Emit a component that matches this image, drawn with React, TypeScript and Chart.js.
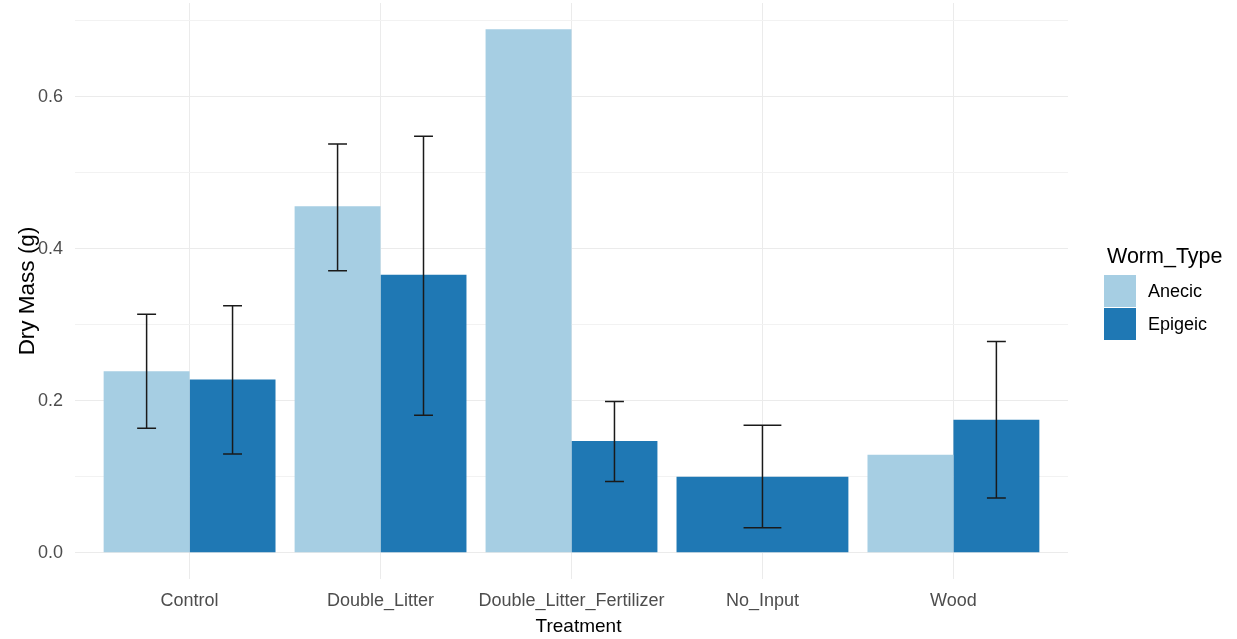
import React, { useEffect, useRef } from "react";
import { Chart, registerables } from "chart.js";

Chart.register(...registerables);

const categories = ["Control", "Double_Litter", "Double_Litter_Fertilizer", "No_Input", "Wood"];
const seriesNames = ["Anecic", "Epigeic"];
const seriesColors = ["#A6CEE3", "#1F78B4"];

const anecicMean: (number | null)[] = [0.239, 0.456, 0.689, null, 0.129];
const anecicLow: (number | null)[] = [0.164, 0.371, null, null, null];
const anecicHigh: (number | null)[] = [0.314, 0.538, null, null, null];

const epigeicMean: (number | null)[] = [0.228, 0.366, 0.147, 0.100, 0.175];
const epigeicLow: (number | null)[] = [0.130, 0.181, 0.094, 0.033, 0.072];
const epigeicHigh: (number | null)[] = [0.325, 0.548, 0.199, 0.168, 0.278];

const yMajorTicks = [0, 0.2, 0.4, 0.6];
const yMinorTicks = [0.1, 0.3, 0.5, 0.7];

const xTitle = "Treatment";
const yTitle = "Dry Mass (g)";
const legendTitle = "Worm_Type";

const FONT = "'Liberation Sans', Arial, sans-serif";

export default function App() {
  const ref = useRef<HTMLCanvasElement | null>(null);

  useEffect(() => {
    if (!ref.current) return;
    const lows = [anecicLow, epigeicLow];
    const highs = [anecicHigh, epigeicHigh];
    const allVals = [...anecicMean, ...epigeicMean, ...anecicHigh, ...epigeicHigh].filter(
      (v): v is number => v !== null
    );
    const dataMax = Math.max(...allVals);
    const yMin = -0.05 * dataMax;
    const yMax = 1.05 * dataMax;
    const allYTicks = [...yMajorTicks, ...yMinorTicks].sort((a, b) => a - b);
    const isMajor = (v: number) => yMajorTicks.some((m) => Math.abs(m - v) < 1e-9);

    const extras = {
      id: "extras",
      afterDatasetsDraw(chart: any) {
        const ctx = chart.ctx;
        const ys = chart.scales.y;
        ctx.save();
        ctx.strokeStyle = "#1A1A1A";
        ctx.lineWidth = 1.5;
        for (let d = 0; d < 2; d++) {
          const meta = chart.getDatasetMeta(d);
          meta.data.forEach((bar: any, i: number) => {
            const lo = lows[d][i];
            const hi = highs[d][i];
            if (lo === null || hi === null) return;
            const p = bar.getProps(["x", "width"], true);
            const half = p.width * 0.11;
            const y1 = ys.getPixelForValue(hi);
            const y2 = ys.getPixelForValue(lo);
            ctx.beginPath();
            ctx.moveTo(p.x, y1);
            ctx.lineTo(p.x, y2);
            ctx.moveTo(p.x - half, y1);
            ctx.lineTo(p.x + half, y1);
            ctx.moveTo(p.x - half, y2);
            ctx.lineTo(p.x + half, y2);
            ctx.stroke();
          });
        }
        ctx.restore();
      },
      afterDraw(chart: any) {
        const ctx = chart.ctx;
        const a = chart.chartArea;
        ctx.save();
        // axis titles
        ctx.fillStyle = "#000000";
        ctx.font = `19px ${FONT}`;
        ctx.textAlign = "center";
        ctx.textBaseline = "alphabetic";
        ctx.fillText(xTitle, (a.left + a.right) / 2 + 7, 632);
        ctx.save();
        ctx.font = `22.5px ${FONT}`;
        ctx.translate(34, (a.top + a.bottom) / 2);
        ctx.rotate(-Math.PI / 2);
        ctx.fillText(yTitle, 0, 0);
        ctx.restore();
        // legend
        const lx = a.right + 36;
        ctx.textAlign = "left";
        ctx.font = `21.5px ${FONT}`;
        ctx.fillText(legendTitle, lx + 3, 263);
        ctx.font = `18px ${FONT}`;
        ctx.textBaseline = "middle";
        seriesNames.forEach((name, k) => {
          const top = 275 + k * 33;
          ctx.fillStyle = seriesColors[k];
          ctx.fillRect(lx, top, 32, 32);
          ctx.fillStyle = "#000000";
          ctx.fillText(name, lx + 44, top + 17);
        });
        ctx.restore();
      },
    };

    const chart = new Chart(ref.current, {
      type: "bar",
      data: {
        datasets: [
          {
            label: seriesNames[0],
            data: categories.map((_, i) => ({ x: i + 1, y: anecicMean[i] })) as any,
            backgroundColor: seriesColors[0],
            borderWidth: 0,
          },
          {
            label: seriesNames[1],
            data: categories.map((_, i) => ({ x: i + 1, y: epigeicMean[i] })) as any,
            backgroundColor: seriesColors[1],
            borderWidth: 0,
          },
        ],
      },
      options: {
        responsive: false,
        animation: false,
        events: [],
        layout: { padding: { top: 3, right: 169, bottom: 0, left: 0 } },
        datasets: {
          bar: {
            categoryPercentage: 0.9,
            barPercentage: 1,
            skipNull: true,
          },
        },
        plugins: {
          legend: { display: false },
          tooltip: { enabled: false },
          title: { display: false },
        },
        scales: {
          x: {
            type: "linear",
            min: 0.4,
            max: 5.6,
            offset: false,
            afterBuildTicks: (s: any) => {
              s.ticks = categories.map((_, i) => ({ value: i + 1 }));
            },
            afterFit: (s: any) => {
              s.height = 60;
              s.paddingLeft = 0;
              s.paddingRight = 0;
            },
            ticks: {
              autoSkip: false,
              maxRotation: 0,
              minRotation: 0,
              padding: 11,
              color: "#4D4D4D",
              font: { family: FONT, size: 18 },
              callback: (v: any) => categories[Math.round(Number(v)) - 1] ?? "",
            },
            grid: { color: "#EBEBEB", lineWidth: 1, drawTicks: false, offset: false },
            border: { display: false },
          },
          y: {
            type: "linear",
            min: yMin,
            max: yMax,
            afterBuildTicks: (s: any) => {
              s.ticks = allYTicks.map((v) => ({ value: v }));
            },
            afterFit: (s: any) => {
              s.width = 75;
              s.paddingTop = 0;
              s.paddingBottom = 0;
            },
            ticks: {
              padding: 12,
              color: "#4D4D4D",
              font: { family: FONT, size: 18 },
              callback: (v: any) => (isMajor(Number(v)) ? Number(v).toFixed(1) : ""),
            },
            grid: {
              drawTicks: false,
              color: (c: any) => (c.tick && isMajor(c.tick.value) ? "#EBEBEB" : "#F2F2F2"),
              lineWidth: 1,
            },
            border: { display: false },
          },
        },
      },
      plugins: [extras],
    } as any);

    return () => chart.destroy();
  }, []);

  return (
    <div style={{ position: "absolute", left: 0, top: 0, width: 1237, height: 639, background: "#FFFFFF" }}>
      <canvas ref={ref} width={1237} height={639} style={{ display: "block" }} />
    </div>
  );
}
